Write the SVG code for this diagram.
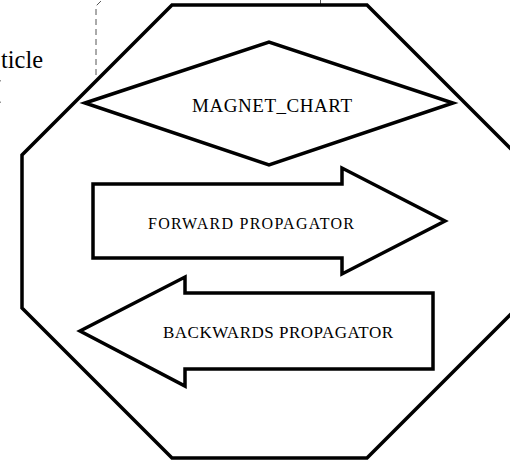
<svg xmlns="http://www.w3.org/2000/svg" width="510" height="461" viewBox="0 0 510 461">
<style>
.shape{fill:#fff;stroke:#000;stroke-width:3.5;stroke-linejoin:miter}
.dash{fill:none;stroke:#555;stroke-width:1;stroke-dasharray:6 4}
.lbl{font-family:"Liberation Serif","Times New Roman",serif;fill:#000}
</style>
<rect width="510" height="461" fill="#fff"/>
<g id="connectors">
<polyline class="dash" points="96,75 96,6 102,0"/>
<line class="dash" x1="320.5" y1="0" x2="320.5" y2="58"/>
<line x1="0.5" y1="80" x2="0.5" y2="104" stroke="#999" stroke-width="1" stroke-dasharray="1.5 20"/>
</g>
<g id="particle">
<text class="lbl" x="1" y="68" font-size="26" textLength="42" lengthAdjust="spacingAndGlyphs">ticle</text>
</g>
<g id="octagon">
<polygon class="shape" points="172,5 367,5 517,155 517,308 367,458 172,458 22,308 22,155"/>
</g>
<g id="magnet_chart">
<polygon class="shape" points="85,103 269,42 453,103 269,165"/>
<text class="lbl" x="272" y="112" font-size="19" text-anchor="middle" textLength="160" lengthAdjust="spacing">MAGNET_CHART</text>
</g>
<g id="forward_propagator">
<polygon class="shape" points="93,184 342,184 342,168 445,221 342,274 342,258 93,258"/>
<text class="lbl" x="148" y="229" font-size="16" textLength="206" lengthAdjust="spacing">FORWARD PROPAGATOR</text>
</g>
<g id="backwards_propagator">
<polygon class="shape" points="433,293 185,293 185,277 80,331 185,386 185,369 433,369"/>
<text class="lbl" x="163" y="338" font-size="17" textLength="230" lengthAdjust="spacing">BACKWARDS PROPAGATOR</text>
</g>
</svg>
